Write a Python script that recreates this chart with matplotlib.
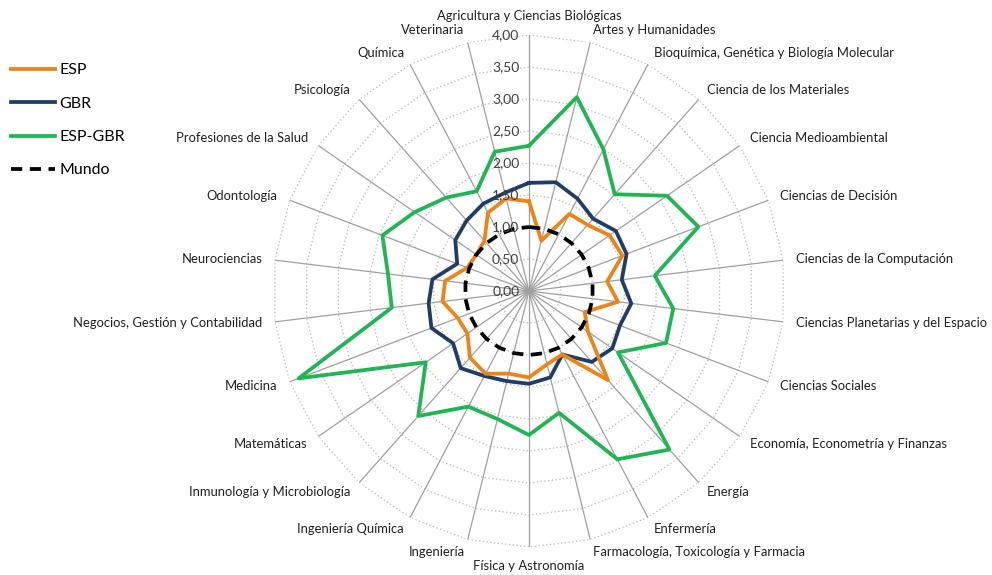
import numpy as np
import matplotlib
matplotlib.use("Agg")
import matplotlib.pyplot as plt
from matplotlib.lines import Line2D

plt.rcParams['font.family'] = ['Lato', 'DejaVu Sans']

# 26 areas, clockwise from the top
categories = [
    "Agricultura y Ciencias Biológicas", "Artes y Humanidades",
    "Bioquímica, Genética y Biología Molecular", "Ciencia de los Materiales",
    "Ciencia Medioambiental", "Ciencias de Decisión", "Ciencias de la Computación",
    "Ciencias Planetarias y del Espacio", "Ciencias Sociales",
    "Economía, Econometría y Finanzas", "Energía", "Enfermería",
    "Farmacología, Toxicología y Farmacia", "Física y Astronomía", "Ingeniería",
    "Ingeniería Química", "Inmunología y Microbiología", "Matemáticas", "Medicina",
    "Negocios, Gestión y Contabilidad", "Neurociencias", "Odontología",
    "Profesiones de la Salud", "Psicología", "Química", "Veterinaria",
]
esp = [1.40, 0.81, 1.36, 1.38, 1.53, 1.56, 1.23, 1.40, 0.93, 1.12, 1.86, 1.12, 1.18,
       1.35, 1.33, 1.46, 1.39, 1.17, 1.19, 1.36, 1.32, 1.03, 1.00, 1.05, 1.38, 1.49]
gbr = [1.69, 1.75, 1.63, 1.51, 1.65, 1.63, 1.46, 1.61, 1.52, 1.58, 1.48, 1.12, 1.39,
       1.45, 1.45, 1.50, 1.61, 1.44, 1.63, 1.58, 1.52, 1.20, 1.40, 1.47, 1.54, 1.58]
esp_gbr = [2.27, 3.12, 2.50, 2.02, 2.62, 2.83, 1.98, 2.27, 2.29, 1.69, 3.31, 2.97, 1.96,
           2.25, 2.06, 2.04, 2.61, 1.96, 3.85, 2.16, 2.22, 2.45, 2.17, 1.95, 1.76, 2.24]
mundo = [1.0] * len(categories)
rings = [0.0, 0.5, 1.0, 1.5, 2.0, 2.5, 3.0, 3.5, 4.0]
ring_labels = ["0,00", "0,50", "1,00", "1,50", "2,00", "2,50", "3,00", "3,50", "4,00"]

n = len(categories)
theta = np.arange(n) * 2 * np.pi / n
theta_closed = np.append(theta, theta[0])

def closed(vals):
    return np.append(vals, vals[0])

fig = plt.figure(figsize=(9.92, 5.75), dpi=100)
# center at about (529, 291) px, radius 256 px
cx, cy = 529 / 992, 1 - 291 / 575
rw, rh = 256 / 992, 256 / 575
ax = fig.add_axes([cx - rw, cy - rh, 2 * rw, 2 * rh], polar=True)
ax.set_theta_zero_location("N")
ax.set_theta_direction(-1)
ax.set_ylim(0, 4)
ax.grid(False)
ax.spines["polar"].set_visible(False)
ax.set_xticks([])
ax.set_yticks([])

# polygon rings (dotted) and spokes
for r in rings[1:]:
    ax.plot(theta_closed, [r] * (n + 1), color="#b8b8b8", lw=0.9, ls=(0, (1, 2)), zorder=1)
for t in theta:
    ax.plot([t, t], [0, 4], color="#a0a0a0", lw=0.9, zorder=1)

lw = 2.7
ax.plot(theta_closed, closed(esp_gbr), color="#1fb553", lw=lw, zorder=3)
ax.plot(theta_closed, closed(gbr), color="#1f3d66", lw=lw, zorder=4)
ax.plot(theta_closed, closed(esp), color="#ee8417", lw=lw, zorder=5)
ax.plot(theta_closed, closed(mundo), color="black", lw=lw, ls=(0, (3, 2)), zorder=6)

# ring values along the top spoke
for r, lab in zip(rings, ring_labels):
    ax.annotate(lab, (0, r), xytext=(-7, 0), textcoords="offset points",
                ha="right", va="center", fontsize=10, color="#404040", zorder=7)

# category labels
for t, lab in zip(theta, categories):
    deg = np.degrees(t)
    if deg < 1 or deg > 359:
        ha, va = "center", "bottom"
    elif abs(deg - 180) < 1:
        ha, va = "center", "top"
    elif deg < 180:
        ha, va = "left", "center"
    else:
        ha, va = "right", "center"
    ax.text(t, 4.2, lab, ha=ha, va=va, fontsize=9.4, color="#222222")

handles = [
    Line2D([], [], color="#ee8417", lw=lw),
    Line2D([], [], color="#1f3d66", lw=lw),
    Line2D([], [], color="#1fb553", lw=lw),
    Line2D([], [], color="black", lw=lw, ls=(0, (3, 2))),
]
fig.legend(handles, ["ESP", "GBR", "ESP-GBR", "Mundo"], loc="upper left",
           bbox_to_anchor=(-0.003, 0.915), frameon=False, fontsize=11.5,
           handlelength=2.75, handletextpad=0.25, labelspacing=1.2)

fig.savefig("out.png", dpi=100)
